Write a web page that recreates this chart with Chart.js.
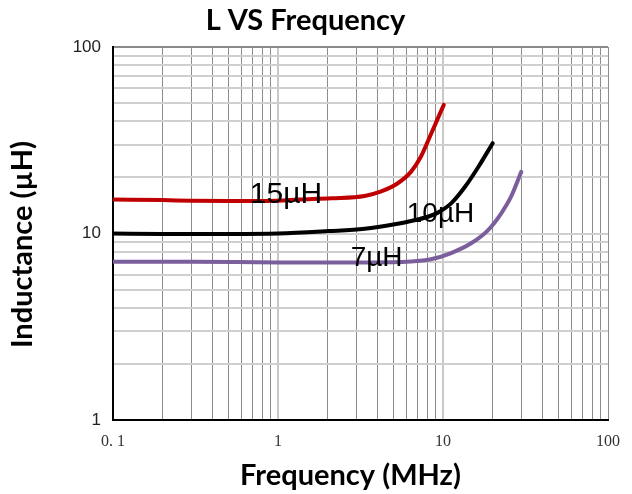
<!DOCTYPE html>
<html>
<head>
<meta charset="utf-8">
<script src="https://cdn.jsdelivr.net/npm/chart.js@4.4.1/dist/chart.umd.min.js"></script>
<style>
  html, body { margin: 0; padding: 0; background: #fff; }
  #wrap { width: 632px; height: 494px; }
</style>
</head>
<body>
<div id="wrap"><canvas id="c" width="632" height="494"></canvas></div>
<script>
// ---- data ----
const seriesNames = ['15µH', '10µH', '7µH'];

const freq15 = [0.1, 0.2, 0.3, 0.5, 0.7, 1, 1.33, 2.11, 3.35, 4.22, 5.32, 6.39, 7.34, 8.5, 10.1];
const ind15  = [15.2, 15.1, 15.0, 14.95, 14.95, 15.0, 15.2, 15.45, 15.9, 16.8, 18.6, 21.4, 25.8, 34.5, 48.9];

const freq10 = [0.1, 0.2, 0.3, 0.5, 1, 2.02, 3.35, 5.1, 6.5, 8.1, 9.25, 11.2, 13.6, 16.4, 20.0];
const ind10  = [10.0, 9.95, 9.95, 9.95, 10.0, 10.3, 10.6, 11.2, 11.7, 12.3, 12.9, 14.5, 17.8, 22.8, 30.5];

const freq7 = [0.1, 0.3, 1, 3.35, 6.39, 8.43, 11.1, 14.8, 18.7, 22.5, 25.9, 29.8];
const ind7  = [7.05, 7.05, 7.0, 7.0, 7.08, 7.27, 7.83, 8.86, 10.4, 12.8, 15.8, 21.4];

// curve label anchors (data coordinates: MHz, µH at text baseline)
const labelFreq = [1.117, 9.66, 3.96];
const labelInd  = [14.65, 11.57, 6.69];

const chartTitle = 'L VS Frequency';
const xAxisTitle = 'Frequency (MHz)';
const yAxisTitle = 'Inductance (µH)';

const xTickLabels = {0.1: '0. 1', 1: '1', 10: '10', 100: '100'};
const yTickLabels = {1: '1', 10: '10', 100: '100'};

const colors = ['#C00000', '#000000', '#7B5E9C'];

function pts(xs, ys) { return xs.map((x, i) => ({x: x, y: ys[i]})); }
function logTicks(minExp, maxExp) {
  const t = [];
  for (let e = minExp; e < maxExp; e++) {
    for (let m = 1; m <= 9; m++) t.push({value: Number((m * Math.pow(10, e)).toPrecision(3))});
  }
  t.push({value: Math.pow(10, maxExp)});
  return t;
}
function isDecade(v) { const l = Math.log10(v); return Math.abs(l - Math.round(l)) < 1e-9; }

const curveLabels = {
  id: 'curveLabels',
  afterDatasetsDraw(chart, args, opts) {
    const ctx = chart.ctx, xs = chart.scales.x, ys = chart.scales.y;
    ctx.save();
    ctx.fillStyle = '#000';
    ctx.textAlign = 'center';
    ctx.textBaseline = 'alphabetic';
    seriesNames.forEach((n, i) => {
      ctx.font = opts.sizes[i] + 'px "Liberation Sans", Arial, sans-serif';
      ctx.fillText(n, xs.getPixelForValue(labelFreq[i]), ys.getPixelForValue(labelInd[i]));
    });
    ctx.restore();
  }
};

// axis titles, placed like the reference (slightly off the plot centre)
const axisTitles = {
  id: 'axisTitles',
  afterDraw(chart, args, opts) {
    const ctx = chart.ctx, a = chart.chartArea;
    ctx.save();
    ctx.fillStyle = '#000';
    ctx.font = opts.font;
    ctx.textAlign = 'center';
    ctx.textBaseline = 'middle';
    ctx.fillText(xAxisTitle, (a.left + a.right) / 2 + opts.xShift, a.bottom + opts.xGap);
    ctx.translate(a.left - opts.yGap, (a.top + a.bottom) / 2 + opts.yShift);
    ctx.rotate(-Math.PI / 2);
    ctx.fillText(yAxisTitle, 0, 0);
    ctx.restore();
  }
};

new Chart(document.getElementById('c'), {
  type: 'scatter',
  data: {
    datasets: [
      {label: seriesNames[0], data: pts(freq15, ind15)},
      {label: seriesNames[1], data: pts(freq10, ind10)},
      {label: seriesNames[2], data: pts(freq7, ind7)}
    ].map((d, i) => Object.assign(d, {
      showLine: true, borderColor: colors[i], backgroundColor: colors[i],
      borderWidth: 4, pointRadius: 0, cubicInterpolationMode: 'monotone',
      borderCapStyle: 'round', borderJoinStyle: 'round'
    }))
  },
  options: {
    responsive: false,
    animation: false,
    devicePixelRatio: 1,
    layout: {padding: {top: 0, left: 0, right: 21, bottom: 0}},
    plugins: {
      legend: {display: false},
      tooltip: {enabled: false},
      curveLabels: {sizes: [30, 28, 28]},
      axisTitles: {
        font: 'bold 29px Lato, "Open Sans", sans-serif',
        xShift: -10, xGap: 55.5, yGap: 90.5, yShift: 11
      },
      title: {
        display: true, text: chartTitle, color: '#000',
        font: {family: 'Lato, "Open Sans", sans-serif', size: 29, weight: 'bold', lineHeight: 1.2},
        padding: {top: 3.6, bottom: 8.6, left: 8}
      }
    },
    scales: {
      x: {
        type: 'logarithmic', min: 0.1, max: 100,
        afterBuildTicks: s => { s.ticks = logTicks(-1, 2); },
        afterFit: s => { s.height = 74; },
        ticks: {
          autoSkip: false, maxRotation: 0, padding: 12, color: '#333',
          font: {family: '"Liberation Serif", "DejaVu Serif", serif', size: 16},
          callback: v => (xTickLabels[v] !== undefined ? xTickLabels[v] : '')
        },
        grid: {
          drawTicks: false,
          color: c => (c.tick && isDecade(c.tick.value) ? (c.tick.value === 100 ? '#8a8a8a' : '#c8c8c8') : '#8c8c8c'),
          lineWidth: c => (c.tick && isDecade(c.tick.value) && c.tick.value !== 100 ? 2 : 1)
        },
        border: {display: true, color: '#000', width: 2},
        title: {display: false}
      },
      y: {
        type: 'logarithmic', min: 1, max: 100,
        afterBuildTicks: s => { s.ticks = logTicks(0, 2); },
        afterFit: s => { s.width = 113; },
        ticks: {
          autoSkip: false, padding: 12, color: '#222',
          font: {family: '"Liberation Sans", Arial, sans-serif', size: 17},
          callback: v => (yTickLabels[v] !== undefined ? yTickLabels[v] : '')
        },
        grid: {
          drawTicks: false,
          color: c => (c.tick && c.tick.value === 100 ? '#8a8a8a' : '#cfcfcf'),
          lineWidth: 2
        },
        border: {display: true, color: '#000', width: 2},
        title: {display: false}
      }
    }
  },
  plugins: [curveLabels, axisTitles]
});
</script>
</body>
</html>
